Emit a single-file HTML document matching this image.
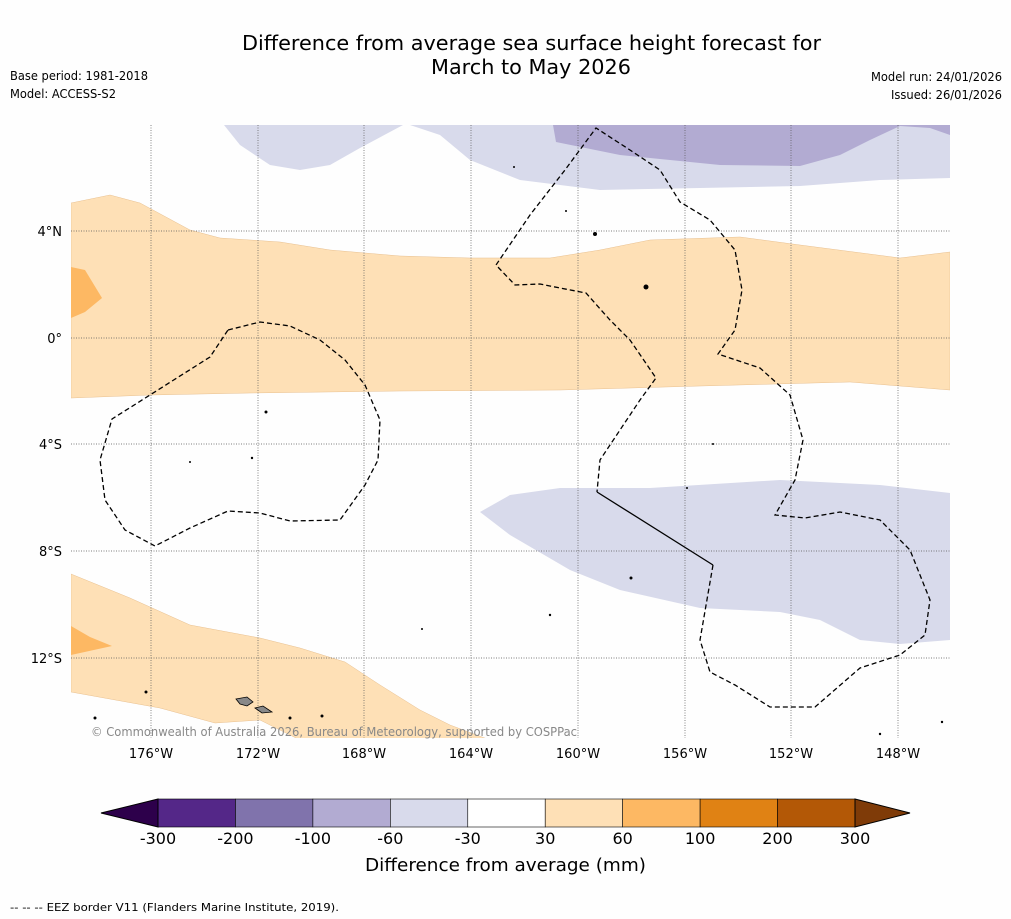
<!DOCTYPE html>
<html><head><meta charset="utf-8"><style>
body{margin:0;background:#fff;font-family:"DejaVu Sans",sans-serif}
svg{display:block}
</style></head><body>
<svg width="1011" height="919" viewBox="0 0 1011 919" font-family="DejaVu Sans, sans-serif">
<rect width="1011" height="919" fill="#fefefe"/>
<text x="242" y="50" font-size="20" textLength="579" lengthAdjust="spacingAndGlyphs">Difference from average sea surface height forecast for</text>
<text x="431" y="74" font-size="20" textLength="200" lengthAdjust="spacingAndGlyphs">March to May 2026</text>
<text x="10" y="80" font-size="12" textLength="138" lengthAdjust="spacingAndGlyphs">Base period: 1981-2018</text>
<text x="10" y="98" font-size="12" textLength="106" lengthAdjust="spacingAndGlyphs">Model: ACCESS-S2</text>
<text x="871" y="81" font-size="12" textLength="131" lengthAdjust="spacingAndGlyphs">Model run: 24/01/2026</text>
<text x="891" y="99" font-size="12" textLength="111" lengthAdjust="spacingAndGlyphs">Issued: 26/01/2026</text>
<defs><clipPath id="mc"><rect x="71" y="125" width="879" height="613"/></clipPath></defs>
<g clip-path="url(#mc)">
<polygon fill="#fee0b6" stroke="#e8c090" stroke-width="0.5" points="71,203 110,195 140,203 190,230 220,238 280,242 330,250 400,256 470,258 550,258 600,250 650,240 740,237 800,245 900,258 950,252 950,390 850,382 700,386 560,390 400,391 250,393 150,395 71,398"/>
<polygon fill="#fdb863" points="71,267 85,270 102,298 85,312 71,318"/>
<polygon fill="#d8daeb" points="224,125 240,145 270,165 300,170 330,165 360,148 403,125"/>
<polygon fill="#d8daeb" points="410,125 440,135 470,160 520,180 600,190 700,188 800,186 880,180 950,178 950,125"/>
<polygon fill="#b2abd2" points="553,125 556,142 620,155 720,165 800,166 840,155 870,140 900,126 930,128 950,135 950,125"/>
<polygon fill="#d8daeb" points="480,512 510,495 560,488 650,488 780,480 880,485 950,493 950,640 900,644 860,640 820,620 780,612 700,608 620,590 570,570 510,535"/>
<polygon fill="#fee0b6" stroke="#e8c090" stroke-width="0.5" points="71,574 130,598 190,625 260,638 300,648 345,662 380,685 420,710 450,725 490,740 300,740 260,720 215,723 160,708 71,692"/>
<polygon fill="#fdb863" points="71,626 90,637 112,646 71,655"/>
<g stroke="#555" stroke-width="0.7" stroke-dasharray="1,1.5">
<line x1="151" y1="125" x2="151" y2="738"/><line x1="258" y1="125" x2="258" y2="738"/><line x1="364" y1="125" x2="364" y2="738"/><line x1="471" y1="125" x2="471" y2="738"/><line x1="578" y1="125" x2="578" y2="738"/><line x1="685" y1="125" x2="685" y2="738"/><line x1="791" y1="125" x2="791" y2="738"/><line x1="898" y1="125" x2="898" y2="738"/>
<line x1="71" y1="231" x2="950" y2="231"/><line x1="71" y1="338" x2="950" y2="338"/><line x1="71" y1="444" x2="950" y2="444"/><line x1="71" y1="551" x2="950" y2="551"/><line x1="71" y1="658" x2="950" y2="658"/>
</g>
<polyline fill="none" stroke="#000" stroke-width="1.3" stroke-dasharray="5,3" points="228,330 260,322 290,326 320,340 345,360 365,385 380,420 378,460 365,485 340,520 290,521 260,513 228,511 190,528 155,546 125,530 105,500 100,460 112,419 150,395 210,357 228,330"/>
<polyline fill="none" stroke="#000" stroke-width="1.3" stroke-dasharray="5,3" points="713,565 700,640 710,672 735,685 770,707 815,707 860,668 900,655 925,635 930,600 910,550 880,520 840,512 805,518 775,515 795,480 803,440 790,395 760,368 718,354 735,330 742,290 735,250 710,220 680,202 660,170 630,150 596,128 565,170 530,215 496,265 515,285 540,284 560,288 586,293 610,320 630,340 656,378 640,400 620,430 600,460 597,492"/>
<line x1="597" y1="492" x2="713" y2="565" stroke="#000" stroke-width="1.3"/>
<g fill="#000">
<circle cx="595" cy="234" r="2"/><circle cx="646" cy="287" r="2.5"/><circle cx="266" cy="412" r="1.5"/><circle cx="190" cy="462" r="1"/><circle cx="252" cy="458" r="1.2"/><circle cx="146" cy="692" r="1.5"/><circle cx="95" cy="718" r="1.5"/><circle cx="290" cy="718" r="1.5"/><circle cx="322" cy="716" r="1.5"/><circle cx="631" cy="578" r="1.5"/><circle cx="550" cy="615" r="1.2"/><circle cx="713" cy="444" r="1"/><circle cx="687" cy="488" r="1"/><circle cx="514" cy="167" r="1"/><circle cx="566" cy="211" r="1"/><circle cx="422" cy="629" r="1"/><circle cx="880" cy="734" r="1.2"/><circle cx="942" cy="722" r="1.2"/>
</g>
<polygon fill="#888" stroke="#000" stroke-width="0.8" points="236,699 247,697 253,702 247,706 240,704"/>
<polygon fill="#888" stroke="#000" stroke-width="0.8" points="255,708 263,706 272,712 262,713"/>
</g>
<text x="91" y="736" font-size="12" fill="#888" textLength="486" lengthAdjust="spacingAndGlyphs">© Commonwealth of Australia 2026, Bureau of Meteorology, supported by COSPPac</text>
<g font-size="13" text-anchor="middle">
<text x="151" y="758">176°W</text><text x="258" y="758">172°W</text><text x="364" y="758">168°W</text><text x="471" y="758">164°W</text><text x="578" y="758">160°W</text><text x="685" y="758">156°W</text><text x="791" y="758">152°W</text><text x="898" y="758">148°W</text>
</g>
<g font-size="13" text-anchor="end">
<text x="62" y="236">4°N</text><text x="62" y="343">0°</text><text x="62" y="449">4°S</text><text x="62" y="556">8°S</text><text x="62" y="663">12°S</text>
</g>
<g id="cbar"></g>
<text x="365" y="871" font-size="18" textLength="281" lengthAdjust="spacingAndGlyphs">Difference from average (mm)</text>
<text x="10" y="911" font-size="11" textLength="329" lengthAdjust="spacingAndGlyphs">--  --  -- EEZ border V11 (Flanders Marine Institute, 2019).</text>
</svg>
<script>
const levels=[-300,-200,-100,-60,-30,30,60,100,200,300];
const colors=["#542788","#8073ac","#b2abd2","#d8daeb","#ffffff","#fee0b6","#fdb863","#e08214","#b35806"];
const g=document.getElementById('cbar');
const NS='http://www.w3.org/2000/svg';
const x0=158,x1=855,y0=799,h=28;
const w=(x1-x0)/colors.length;
colors.forEach((c,i)=>{const r=document.createElementNS(NS,'rect');
r.setAttribute('x',x0+i*w);r.setAttribute('y',y0);r.setAttribute('width',w);r.setAttribute('height',h);
r.setAttribute('fill',c);r.setAttribute('stroke','#000');r.setAttribute('stroke-width','0.6');


g.appendChild(r);});
const lo=document.createElementNS(NS,'polygon');lo.setAttribute('points',`${x0},${y0} 101,${y0+h/2} ${x0},${y0+h}`);lo.setAttribute('fill','#2d004b');lo.setAttribute('stroke','#000');


g.appendChild(lo);
const hi=document.createElementNS(NS,'polygon');hi.setAttribute('points',`${x1},${y0} 910,${y0+h/2} ${x1},${y0+h}`);hi.setAttribute('fill','#7f3b08');hi.setAttribute('stroke','#000');


g.appendChild(hi);
levels.forEach((v,i)=>{const t=document.createElementNS(NS,'text');t.setAttribute('x',x0+i*w);t.setAttribute('y',844);
t.setAttribute('font-size','16');t.setAttribute('text-anchor','middle');t.textContent=v;


g.appendChild(t);});
</script>
</body></html>
